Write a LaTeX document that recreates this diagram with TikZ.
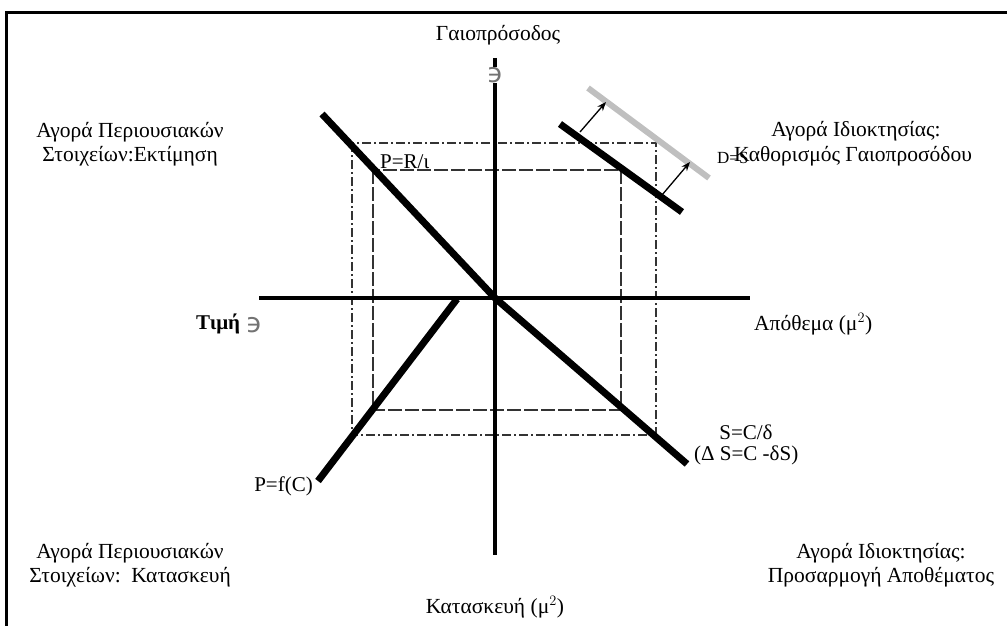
\documentclass[tikz,border=0pt]{standalone}
\usepackage{fontspec}
\setmainfont{Liberation Serif}
\newfontfamily\symfont{DejaVu Sans}
\usetikzlibrary{arrows.meta}
\begin{document}
\begin{tikzpicture}[x=1pt,y=-1pt,
  axisline/.style={line width=4pt},
  thickline/.style={line width=7pt},
  grayline/.style={line width=6pt,color=black!25},
  outerrect/.style={line width=1.2pt,dash pattern=on 9pt off 3pt on 2pt off 3pt,color=black!80},
  innerrect/.style={line width=1.2pt,dash pattern=on 14pt off 3pt,color=black!80},
  shiftarrow/.style={line width=1.3pt,-{Stealth[length=9pt,width=7pt]}},
  lbl/.style={font=\fontsize{21.5}{23.5}\selectfont,inner sep=0pt,align=center},
  small/.style={font=\fontsize{21}{23}\selectfont,inner sep=0pt},
  euro/.style={font=\symfont\fontsize{27}{29}\selectfont,text=black!55,inner sep=0.5pt}]
\useasboundingbox (0,0) rectangle (1007,626);
% frame (top and left edges visible)
\draw[line width=3pt] (6,626) -- (6,13) -- (1007,13);
% rectangles
\draw[outerrect] (352,143) rectangle (656,435);
\draw[innerrect] (373,170) rectangle (621,410);
% axes
\coordinate (vt) at (495,58);
\coordinate (vb) at (495,555);
\coordinate (hl) at (259,298);
\coordinate (hr) at (750,298);
\coordinate (o) at (495,298);
\draw[axisline] (vt) -- (vb);
\draw[axisline] (hl) -- (hr);
\node[euro,fill=white] (eup) at (495,75) {϶};
% diagonal lines
\coordinate (pr1) at (322,114);
\coordinate (sc2) at (687,464);
\draw[thickline] (pr1) -- (o) -- (sc2);
\coordinate (pf1) at (457,299);
\coordinate (pf2) at (318,481);
\draw[thickline] (pf1) -- (pf2);
% demand shift
\coordinate (d1) at (560,124);
\coordinate (d2) at (682,212);
\coordinate (g1) at (588,88);
\coordinate (g2) at (709,178);
\draw[grayline] (g1) -- (g2);
\draw[thickline] (d1) -- (d2);
\coordinate (a1s) at (580,132);
\coordinate (a1e) at (606,102);
\coordinate (a2s) at (662,195);
\coordinate (a2e) at (690,162);
\draw[shiftarrow] (a1s) -- (a1e);
\draw[shiftarrow] (a2s) -- (a2e);
% labels
\node[lbl] (top) at (498,35) {Γαιοπρόσοδος};
\node[lbl] (ul) at (130,144) {Αγορά Περιουσιακών\\Στοιχείων:Εκτίμηση};
\node[lbl,anchor=center] (ur1) at (856,131) {Αγορά Ιδιοκτησίας:};
\node[lbl,anchor=west] (ur2) at (734,156) {Καθορισμός Γαιοπροσόδου};
\node[small,anchor=west,font=\fontsize{17}{19}\selectfont] (ds) at (717,158) {D=S};
\node[small,anchor=west] (pri) at (380,162) {P=R/ι};
\node[lbl,anchor=west,font=\bfseries\fontsize{21}{23}\selectfont] (price) at (196,324) {Τιμή};
\node[euro,anchor=west] (eul) at (245,325) {϶};
\node[lbl,anchor=west] (stock) at (754,324) {Απόθεμα (μ$^{2}$)};
\node[small] (sc) at (746,432) {S=C/δ};
\node[small,anchor=west] (dsc) at (694,455) {(Δ S=C -δS)};
\node[small,anchor=east] (pfc) at (313,486) {P=f(C)};
\node[lbl] (ll) at (130,565) {Αγορά Περιουσιακών\\Στοιχείων:\ \ Κατασκευή};
\node[lbl] (lr) at (881,565) {Αγορά Ιδιοκτησίας:\\Προσαρμογή Αποθέματος};
\node[lbl] (bot) at (495,607) {Κατασκευή (μ$^{2}$)};
\end{tikzpicture}
\end{document}
